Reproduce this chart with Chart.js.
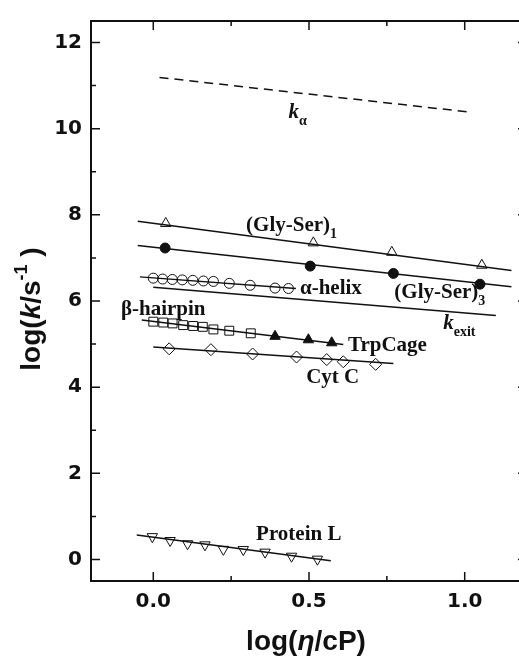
<!DOCTYPE html>
<html>
<head>
<meta charset="utf-8">
<title>log k vs log viscosity</title>
<script src="https://cdn.jsdelivr.net/npm/chart.js@4.4.1/dist/chart.umd.min.js"></script>
<style>
  html, body { margin: 0; padding: 0; background: #fff; overflow: hidden; }
  #chart { display: block; }
</style>
</head>
<body>
<canvas id="chart" width="530" height="658"></canvas>
<script>
'use strict';

/* ── axis ticks ── */
const xTicks = [0, 0.5, 1.0];
const xMinorTicks = [0.25, 0.75];
const yTicks = [0, 2, 4, 6, 8, 10, 12];
const yMinorTicks = [1, 3, 5, 7, 9, 11];

/* ── measured points ── */
const glySer1X = [0.04, 0.514, 0.766, 1.055];
const glySer1Y = [7.80, 7.35, 7.13, 6.83];

const glySer3X = [0.038, 0.504, 0.771, 1.049];
const glySer3Y = [7.23, 6.81, 6.64, 6.39];

const helixX = [0.0, 0.03, 0.061, 0.093, 0.127, 0.161, 0.193, 0.244, 0.311, 0.391, 0.434];
const helixY = [6.53, 6.51, 6.50, 6.49, 6.48, 6.465, 6.455, 6.41, 6.365, 6.30, 6.29];

const hairpinX = [0.0, 0.032, 0.062, 0.096, 0.128, 0.159, 0.193, 0.244, 0.313];
const hairpinY = [5.52, 5.50, 5.48, 5.44, 5.42, 5.40, 5.34, 5.31, 5.25];

const trpCageX = [0.391, 0.498, 0.573];
const trpCageY = [5.18, 5.10, 5.03];

const cytCX = [0.051, 0.185, 0.319, 0.46, 0.557, 0.61, 0.714];
const cytCY = [4.89, 4.87, 4.77, 4.70, 4.64, 4.59, 4.53];

const proteinLX = [-0.003, 0.054, 0.11, 0.166, 0.225, 0.289, 0.359, 0.444, 0.527];
const proteinLY = [0.53, 0.44, 0.365, 0.34, 0.235, 0.23, 0.17, 0.075, 0.007];

/* ── fitted lines (end points) ── */
const kAlphaFitX = [0.02, 1.01];
const kAlphaFitY = [11.19, 10.39];
const glySer1FitX = [-0.05, 1.15];
const glySer1FitY = [7.85, 6.71];
const glySer3FitX = [-0.05, 1.15];
const glySer3FitY = [7.29, 6.33];
const helixFitX = [-0.043, 0.458];
const helixFitY = [6.56, 6.29];
const kExitFitX = [0.0, 1.10];
const kExitFitY = [6.32, 5.665];
const hairpinFitX = [-0.037, 0.61];
const hairpinFitY = [5.56, 4.99];
const cytCFitX = [0.0, 0.771];
const cytCFitY = [4.93, 4.55];
const proteinLFitX = [-0.053, 0.57];
const proteinLFitY = [0.57, -0.03];

/* ── styling ── */
const INK = '#111';
const SERIF = "'Liberation Serif', 'Times New Roman', serif";
const SANS = "'Liberation Sans', Arial, sans-serif";
const TICK_FONT = { family: "'DejaVu Sans', sans-serif", size: 20, weight: 'bold' };

const zip = (xs, ys) => xs.map((x, i) => ({ x, y: ys[i] }));

function markers(xs, ys, style, filled, extra) {
  return Object.assign({
    data: zip(xs, ys),
    showLine: false,
    pointStyle: style,
    pointRadius: 6,
    pointBorderWidth: 1,
    pointBorderColor: INK,
    pointBackgroundColor: filled ? INK : 'rgba(0,0,0,0)',
  }, extra || {});
}

function fitLine(xs, ys, dash) {
  return {
    data: zip(xs, ys),
    showLine: true,
    borderColor: INK,
    borderWidth: 1.5,
    borderDash: dash || [],
    pointRadius: 0,
  };
}

/* annotation text, anchored in data units (left, baseline) */
const notes = [
  { x: 0.434, y: 10.25, parts: [['k', 'italic bold 21px', 0], ['α', 'bold 14px', 7]] },
  { x: 0.298, y: 7.63, parts: [['(Gly-Ser)', 'bold 21px', 0], ['1', 'bold 14px', 7]] },
  { x: 0.471, y: 6.16, parts: [['α-helix', 'bold 21px', 0]] },
  { x: 0.774, y: 6.07, parts: [['(Gly-Ser)', 'bold 21px', 0], ['3', 'bold 14px', 7]] },
  { x: 0.931, y: 5.36, parts: [['k', 'italic bold 21px', 0], ['exit', 'bold 14px', 7]] },
  { x: -0.104, y: 5.67, parts: [['β-hairpin', 'bold 21px', 0]] },
  { x: 0.625, y: 4.84, parts: [['TrpCage', 'bold 21px', 0]] },
  { x: 0.491, y: 4.09, parts: [['Cyt C', 'bold 21px', 0]] },
  { x: 0.330, y: 0.456, parts: [['Protein L', 'bold 21px', 0]] },
];

function runWidth(ctx, parts, family) {
  let w = 0;
  parts.forEach(([t, f]) => { ctx.font = f + ' ' + family; w += ctx.measureText(t).width; });
  return w;
}

function drawRun(ctx, parts, x, y, family) {
  parts.forEach(([t, f, dy]) => {
    ctx.font = f + ' ' + family;
    ctx.fillText(t, x, y + dy);
    x += ctx.measureText(t).width;
  });
}

/* frame, inward ticks, annotations and axis titles */
const decorPlugin = {
  id: 'decor',
  afterDraw(chart) {
    const { ctx, chartArea: a, scales: { x, y } } = chart;
    ctx.save();
    ctx.strokeStyle = INK;
    ctx.fillStyle = INK;

    ctx.lineWidth = 2;
    ctx.strokeRect(a.left, a.top, a.right - a.left, a.bottom - a.top);

    ctx.lineWidth = 1.5;
    const xTick = (v, len) => {
      const px = x.getPixelForValue(v);
      ctx.beginPath();
      ctx.moveTo(px, a.bottom); ctx.lineTo(px, a.bottom - len);
      ctx.moveTo(px, a.top); ctx.lineTo(px, a.top + len);
      ctx.stroke();
    };
    const yTick = (v, len) => {
      const py = y.getPixelForValue(v);
      ctx.beginPath();
      ctx.moveTo(a.left, py); ctx.lineTo(a.left + len, py);
      ctx.moveTo(a.right, py); ctx.lineTo(a.right - len, py);
      ctx.stroke();
    };
    xTicks.forEach(v => xTick(v, 9));
    xMinorTicks.forEach(v => xTick(v, 5));
    yTicks.forEach(v => yTick(v, 9));
    yMinorTicks.forEach(v => yTick(v, 5));

    ctx.textBaseline = 'alphabetic';
    ctx.textAlign = 'left';
    notes.forEach(n => {
      drawRun(ctx, n.parts, x.getPixelForValue(n.x), y.getPixelForValue(n.y), SERIF);
    });

    // x title: log(η/cP)
    const xTitle = [['log(', 'bold 28px', 0], ['η', 'italic bold 28px', 0], ['/cP)', 'bold 28px', 0]];
    const xw = runWidth(ctx, xTitle, SANS);
    drawRun(ctx, xTitle, (a.left + a.right) / 2 - 3 - xw / 2, 650, SANS);

    // y title: log(k/s-1), rotated
    const yTitle = [['log(', 'bold 28px', 0], ['k', 'italic bold 28px', 0], ['/s', 'bold 28px', 0],
                    ['-1', 'bold 18px', -13], [' )', 'bold 28px', 0]];
    const yw = runWidth(ctx, yTitle, SANS);
    ctx.translate(40, 309);
    ctx.rotate(-Math.PI / 2);
    drawRun(ctx, yTitle, -yw / 2, 0, SANS);

    ctx.restore();
  },
};

new Chart(document.getElementById('chart'), {
  type: 'scatter',
  data: {
    datasets: [
      fitLine(kAlphaFitX, kAlphaFitY, [9, 6]),
      fitLine(glySer1FitX, glySer1FitY),
      fitLine(glySer3FitX, glySer3FitY),
      fitLine(helixFitX, helixFitY),
      fitLine(kExitFitX, kExitFitY),
      fitLine(hairpinFitX, hairpinFitY),
      fitLine(cytCFitX, cytCFitY),
      fitLine(proteinLFitX, proteinLFitY),
      markers(glySer1X, glySer1Y, 'triangle', false),
      markers(glySer3X, glySer3Y, 'circle', true, { pointRadius: 5 }),
      markers(helixX, helixY, 'circle', false, { pointRadius: 5 }),
      markers(hairpinX, hairpinY, 'rect', false, { pointRadius: 6.3 }),
      markers(trpCageX, trpCageY, 'triangle', true),
      markers(cytCX, cytCY, 'rectRot', false),
      markers(proteinLX, proteinLY, 'triangle', false, { rotation: 180 }),
    ],
  },
  options: {
    responsive: false,
    animation: false,
    events: [],
    layout: { autoPadding: false, padding: { left: 0, right: 3, top: 12, bottom: 0 } },
    plugins: { legend: { display: false }, tooltip: { enabled: false } },
    scales: {
      x: {
        type: 'linear',
        min: -0.2,
        max: 1.2,
        grid: { display: false, drawTicks: false },
        border: { display: false },
        afterBuildTicks: s => { s.ticks = xTicks.map(v => ({ value: v })); },
        afterFit: s => { s.height = 77; },
        ticks: { color: INK, font: TICK_FONT, padding: 9, maxRotation: 0, callback: v => v.toFixed(1) },
      },
      y: {
        type: 'linear',
        min: -0.5,
        max: 12.5,
        grid: { display: false, drawTicks: false },
        border: { display: false },
        afterBuildTicks: s => { s.ticks = yTicks.map(v => ({ value: v })); },
        afterFit: s => { s.width = 91; },
        ticks: { color: INK, font: TICK_FONT, padding: 9, callback: v => String(v) },
      },
    },
  },
  plugins: [decorPlugin],
});
</script>
</body>
</html>
